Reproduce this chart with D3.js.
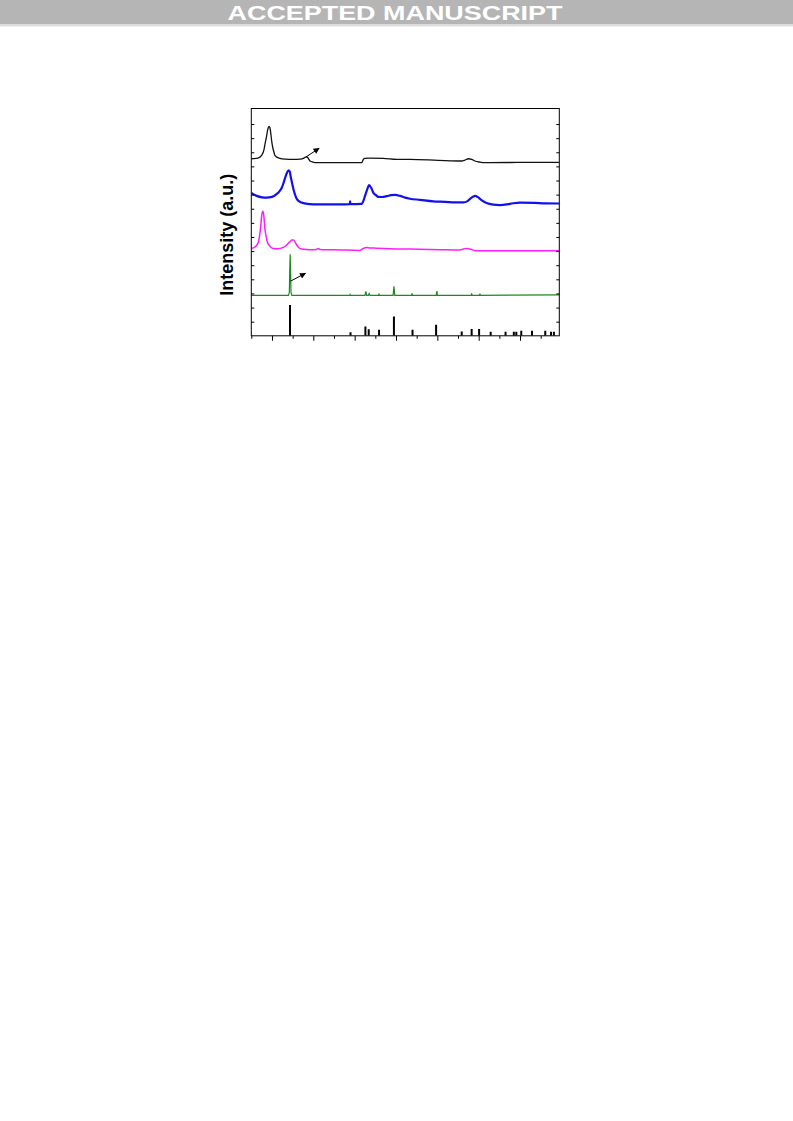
<!DOCTYPE html>
<html>
<head>
<meta charset="utf-8">
<script src="https://cdn.jsdelivr.net/npm/d3@7/dist/d3.min.js"></script>
<style>
  html, body { margin: 0; padding: 0; background: #fff; }
  svg { display: block; }
</style>
</head>
<body>
<svg id="chart" width="793" height="1121"></svg>
<script>
// ---------- DATA (2θ in degrees, stacked intensity in a.u.) ----------
const bannerText = "ACCEPTED MANUSCRIPT";
const yLabel = "Intensity (a.u.)";

const xMajorTicks = [10, 20, 30, 40, 50, 60, 70];
const xMinorTicks = [5, 15, 25, 35, 45, 55, 65, 75];
const yTicks = [10, 20, 30, 40, 50, 60, 70, 80, 90, 100, 110, 120, 130, 140, 150];

const blackTwoTheta = [5.0, 6.6, 7.5, 8.1, 8.3, 8.7, 8.9, 9.1, 9.3, 9.5, 9.7, 9.9, 10.2, 10.5, 10.7, 11.3, 11.9, 13.2, 15.2, 16.8, 17.6, 18.1, 18.4, 18.8, 19.2, 19.9, 20.8, 26.5, 31.7, 32.1, 32.4, 33.7, 36.9, 40.2, 43.4, 50.2, 55.9, 56.7, 57.5, 58.3, 59.1, 60.3, 61.5, 70.0, 79.5];
const blackIntensity = [125.4, 125.9, 127.8, 132.3, 135.6, 141.4, 145.0, 147.4, 148.3, 147.4, 143.8, 138.6, 133.2, 129.8, 127.8, 126.4, 125.7, 125.2, 125.0, 125.2, 125.7, 126.5, 126.8, 125.6, 123.8, 123.0, 122.6, 122.6, 122.6, 124.9, 125.7, 125.8, 125.7, 125.0, 125.0, 124.3, 123.8, 124.5, 125.4, 125.0, 123.8, 123.0, 122.6, 122.8, 122.9];

const blueTwoTheta = [5.0, 6.3, 7.6, 8.7, 10.0, 11.1, 11.8, 12.4, 12.8, 13.2, 13.6, 14.0, 14.3, 14.5, 14.8, 15.2, 15.6, 16.0, 16.8, 17.6, 19.2, 20.8, 26.5, 28.8, 28.9, 29.0, 31.7, 32.2, 32.5, 33.0, 33.5, 34.0, 34.5, 35.2, 35.7, 36.6, 37.8, 38.8, 39.8, 41.0, 42.2, 43.4, 45.8, 49.0, 51.9, 54.3, 56.3, 57.2, 57.9, 58.7, 59.2, 59.8, 60.6, 61.9, 63.5, 65.2, 67.6, 70.0, 73.6, 76.0, 79.5];
const blueIntensity = [101.2, 99.1, 98.1, 97.9, 98.4, 100.3, 102.3, 105.0, 108.3, 112.0, 115.3, 117.2, 116.4, 113.2, 109.0, 103.8, 99.8, 97.0, 94.9, 94.0, 93.3, 93.1, 93.1, 93.3, 95.2, 93.3, 93.5, 96.3, 99.1, 103.4, 106.7, 104.8, 101.4, 99.5, 98.4, 98.3, 98.9, 99.6, 99.8, 99.1, 97.9, 97.1, 96.3, 95.2, 94.9, 94.5, 94.5, 95.2, 97.0, 98.6, 99.1, 98.2, 96.3, 94.0, 92.9, 92.6, 93.5, 94.4, 94.2, 93.8, 93.7];

const magentaTwoTheta = [5.1, 6.1, 6.7, 7.0, 7.3, 7.5, 7.8, 8.0, 8.3, 8.6, 8.9, 9.5, 10.3, 11.5, 12.7, 13.4, 14.0, 14.5, 14.8, 15.2, 15.6, 16.0, 16.5, 17.2, 19.2, 20.8, 21.2, 21.6, 26.5, 31.3, 32.0, 32.9, 33.7, 35.3, 38.6, 43.4, 50.6, 55.5, 56.3, 57.1, 57.9, 58.9, 60.7, 70.0, 79.5];
const magentaIntensity = [61.9, 63.5, 66.2, 70.9, 78.0, 85.0, 88.2, 85.7, 75.6, 70.2, 66.2, 63.5, 61.9, 61.7, 62.6, 63.8, 65.7, 67.0, 67.9, 67.9, 66.3, 64.3, 62.4, 61.5, 61.0, 61.2, 61.9, 61.2, 60.8, 60.5, 61.7, 62.6, 62.2, 62.1, 61.7, 61.4, 61.0, 60.8, 61.5, 61.9, 61.5, 60.5, 60.3, 60.3, 60.3];

const greenTwoTheta = [5.0, 14.0, 14.2, 14.3, 14.4, 14.5, 14.6, 14.8, 28.8, 28.9, 29.0, 32.5, 32.7, 32.9, 33.3, 33.5, 33.7, 35.8, 35.9, 36.0, 39.3, 39.5, 39.7, 43.8, 43.9, 44.0, 49.7, 49.9, 50.0, 58.2, 58.3, 58.4, 60.2, 60.3, 60.4, 79.5];
const greenIntensity = [28.6, 28.6, 30.7, 46.2, 57.8, 46.2, 30.7, 28.6, 28.6, 29.3, 28.6, 28.6, 31.4, 28.6, 28.6, 30.0, 28.6, 28.6, 29.8, 28.6, 28.6, 35.1, 28.6, 28.6, 30.0, 28.6, 28.6, 31.7, 28.6, 28.6, 30.0, 28.6, 28.6, 29.8, 28.6, 29.0];

const stickTwoTheta = [14.36, 29.0, 32.6, 33.4, 35.9, 39.5, 44.0, 49.7, 55.9, 58.3, 60.1, 62.9, 66.5, 68.5, 69.1, 70.3, 72.9, 76.1, 77.5, 78.2];
const stickIntensity = [21.9, 2.6, 6.6, 4.7, 4.2, 13.6, 4.2, 7.8, 3.0, 4.9, 4.9, 2.8, 2.8, 2.8, 2.8, 3.5, 3.5, 3.5, 2.8, 2.8];

// arrows: [start2θ, startI, end2θ, endI]
const arrowBlack = [18.2, 126.6, 21.4, 132.8];
const arrowGreen = [14.5, 38.7, 18.1, 44.3];

// ---------- DRAWING ----------
const svg = d3.select("#chart");
const W = 793;

// banner
svg.append("rect").attr("x", 0).attr("y", 0).attr("width", W).attr("height", 24.5).attr("fill", "#b5b5b5");
svg.append("rect").attr("x", 0).attr("y", 24.5).attr("width", W).attr("height", 2).attr("fill", "#dedede");
svg.append("text")
  .attr("x", 227.5).attr("y", 19.6)
  .attr("font-family", "'Liberation Sans', Arial, sans-serif")
  .attr("font-weight", "bold").attr("font-size", 20)
  .attr("fill", "#ffffff")
  .attr("textLength", 335).attr("lengthAdjust", "spacingAndGlyphs")
  .text(bannerText);

const pLeft = 251.3, pRight = 559.3, pTop = 108.5, pBottom = 335.8;
const x = d3.scaleLinear().domain([5, 79.5]).range([pLeft, pRight]);
const y = d3.scaleLinear().domain([0, 161]).range([pBottom, pTop]);

const defs = svg.append("defs");
defs.append("clipPath").attr("id", "plotclip")
  .append("rect").attr("x", pLeft).attr("y", pTop).attr("width", pRight - pLeft).attr("height", pBottom - pTop);
defs.append("marker").attr("id", "ah").attr("viewBox", "0 0 10 10")
  .attr("refX", 9).attr("refY", 5).attr("markerWidth", 7).attr("markerHeight", 6)
  .attr("markerUnits", "userSpaceOnUse").attr("orient", "auto")
  .append("path").attr("d", "M0,0 L10,5 L0,10 Z").attr("fill", "#000");

const g = svg.append("g");
const plot = g.append("g").attr("clip-path", "url(#plotclip)");

const line = d3.line().x(d => x(d[0])).y(d => y(d[1])).curve(d3.curveMonotoneX);
function series(tt, ii) { return tt.map((t, i) => [t, ii[i]]); }

plot.append("path").datum(series(blackTwoTheta, blackIntensity))
  .attr("d", line).attr("fill", "none").attr("stroke", "#111").attr("stroke-width", 1.3);
plot.append("path").datum(series(blueTwoTheta, blueIntensity))
  .attr("d", line).attr("fill", "none").attr("stroke", "#1010f0").attr("stroke-width", 2.2);
plot.append("path").datum(series(magentaTwoTheta, magentaIntensity))
  .attr("d", line).attr("fill", "none").attr("stroke", "#ff1cff").attr("stroke-width", 1.5);
plot.append("path").datum(series(greenTwoTheta, greenIntensity))
  .attr("d", d3.line().x(d => x(d[0])).y(d => y(d[1])))
  .attr("fill", "none").attr("stroke", "#1a8a1a").attr("stroke-width", 1.2);

// reference sticks
plot.selectAll("line.stick").data(series(stickTwoTheta, stickIntensity)).enter()
  .append("line").attr("class", "stick")
  .attr("x1", d => x(d[0])).attr("x2", d => x(d[0]))
  .attr("y1", y(0)).attr("y2", d => y(d[1]))
  .attr("stroke", "#000").attr("stroke-width", 2);

// arrows
[arrowBlack, arrowGreen].forEach(a => {
  g.append("line")
    .attr("x1", x(a[0])).attr("y1", y(a[1]))
    .attr("x2", x(a[2])).attr("y2", y(a[3]))
    .attr("stroke", "#000").attr("stroke-width", 1).attr("marker-end", "url(#ah)");
});

// frame
g.append("rect").attr("x", pLeft).attr("y", pTop).attr("width", pRight - pLeft).attr("height", pBottom - pTop)
  .attr("fill", "none").attr("stroke", "#000").attr("stroke-width", 1);

// x ticks (outward, no labels)
const xAxisG = g.append("g").attr("transform", `translate(0,${pBottom})`)
  .call(d3.axisBottom(x).tickValues(xMajorTicks).tickSize(5).tickFormat(""));
xAxisG.select(".domain").remove();
const xMinorG = g.append("g").attr("transform", `translate(0,${pBottom})`)
  .call(d3.axisBottom(x).tickValues(xMinorTicks).tickSize(3).tickFormat(""));
xMinorG.select(".domain").remove();

// y ticks (inside, both sides)
const yLG = g.append("g").attr("transform", `translate(${pLeft},0)`)
  .call(d3.axisRight(y).tickValues(yTicks).tickSize(3).tickFormat(""));
yLG.select(".domain").remove();
const yRG = g.append("g").attr("transform", `translate(${pRight},0)`)
  .call(d3.axisLeft(y).tickValues(yTicks).tickSize(3).tickFormat(""));
yRG.select(".domain").remove();

g.selectAll(".tick line").attr("stroke", "#000").attr("stroke-width", 1);

// y label
svg.append("text")
  .attr("transform", "translate(232.5,234.7) rotate(-90)")
  .attr("text-anchor", "middle")
  .attr("font-family", "'Liberation Sans', Arial, sans-serif")
  .attr("font-weight", "bold").attr("font-size", 18)
  .attr("fill", "#000")
  .text(yLabel);
</script>
</body>
</html>
